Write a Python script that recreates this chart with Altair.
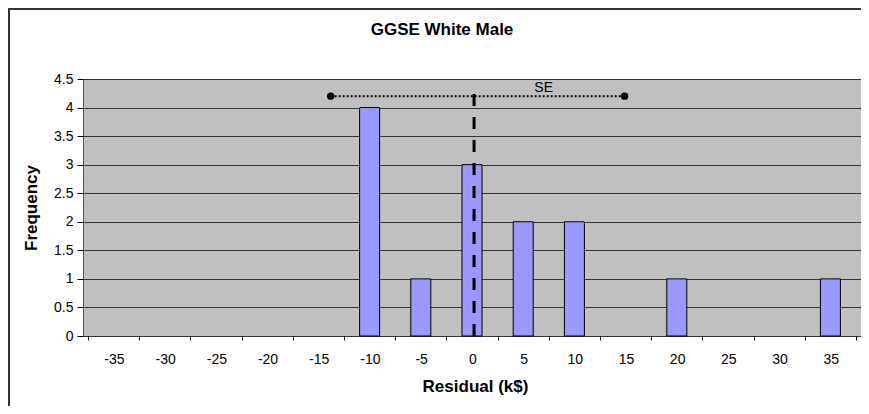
import altair as alt
import pandas as pd

# ---- data ----
categories = [-35, -30, -25, -20, -15, -10, -5, 0, 5, 10, 15, 20, 25, 30, 35]
frequency = [0, 0, 0, 0, 0, 4, 1, 3, 2, 2, 0, 1, 0, 0, 1]
mean_residual = [0.2]
mean_line_top = [4.4]
se_ends = [-13.8, 14.9]
se_level = [4.2]
se_label = ["SE"]
se_label_x = [7.0]
y_ticks = [0, 0.5, 1, 1.5, 2, 2.5, 3, 3.5, 4, 4.5]
bin_edges = [-37.5 + 5 * i for i in range(16)]

W, H = 778, 257
FONT = "Liberation Sans"

bars_df = pd.DataFrame({"residual": categories, "freq": frequency})
mean_df = pd.DataFrame({"x": mean_residual, "y": [0], "y2": mean_line_top})
se_df = pd.DataFrame({"x": [se_ends[0]], "x2": [se_ends[1]], "y": se_level})
se_pts = pd.DataFrame({"x": se_ends, "y": se_level * 2})
se_txt = pd.DataFrame({"x": se_label_x, "y": se_level, "t": se_label})
frame_df = pd.DataFrame({"k": [0]})

xscale = alt.Scale(domain=[bin_edges[0], bin_edges[-1]], nice=False, zero=False)
yscale = alt.Scale(domain=[0, 4.5], nice=False, zero=True)

x_axis = alt.Axis(
    values=bin_edges,
    labelExpr="datum.value > 36 ? '' : toString(datum.value + 2.5)",
    labelOffset=W / 15 / 2,
    labelFlush=False,
    labelOverlap=False,
    tickSize=4,
    tickColor="#000000",
    grid=False,
    domain=False,
    labelPadding=12,
    labelFontSize=14,
    labelColor="#000000",
    title="Residual (k$)",
    titleFontSize=17,
    titleFontWeight="bold",
    titleColor="#000000",
    titleX=392,
    titleY=55,
    titleBaseline="alphabetic",
    titleAlign="center",
)
y_axis = alt.Axis(
    values=y_ticks,
    format=".1~f",
    labelOverlap=False,
    grid=True,
    gridColor="#333333",
    gridWidth=1,
    gridOpacity=1,
    tickSize=6,
    tickColor="#000000",
    domain=False,
    labelPadding=4,
    labelFontSize=14,
    labelColor="#000000",
    title="Frequency",
    titleFontSize=17,
    titleFontWeight="bold",
    titleColor="#000000",
    titleAngle=270,
    titleX=-47,
    titleY=H / 2,
    titleBaseline="alphabetic",
    titleAlign="center",
)


def X(field):
    return alt.X(field, type="quantitative", scale=xscale, axis=x_axis)


def Y(field):
    return alt.Y(field, type="quantitative", scale=yscale, axis=y_axis)


frame = alt.Chart(frame_df).mark_rect(
    fillOpacity=0, stroke="#333333", strokeWidth=2
).encode(
    x=alt.value(-74), x2=alt.value(W + 50),
    y=alt.value(-70), y2=alt.value(H + 150),
)

bars = alt.Chart(bars_df).transform_filter("datum.freq > 0").mark_bar(
    size=20, color="#9999FF", stroke="#000000", strokeWidth=1
).encode(
    x=X("residual"),
    y=Y("freq"),
)

mean_rule = alt.Chart(mean_df).mark_rule(
    color="#000000", strokeWidth=3, strokeDash=[12, 11]
).encode(
    x=X("x"),
    y=Y("y"),
    y2="y2:Q",
)

se_rule = alt.Chart(se_df).mark_rule(
    color="#000000", strokeWidth=2, strokeDash=[2, 2]
).encode(
    x=X("x"),
    x2="x2:Q",
    y=Y("y"),
)

se_points = alt.Chart(se_pts).mark_point(
    filled=True, size=55, color="#000000", opacity=1
).encode(
    x=X("x"),
    y=Y("y"),
)

se_text = alt.Chart(se_txt).mark_text(
    fontSize=14, color="#000000", baseline="alphabetic", dy=-4
).encode(
    x=X("x"),
    y=Y("y"),
    text="t:N",
)

chart = alt.layer(frame, bars, mean_rule, se_rule, se_points, se_text).properties(
    width=W,
    height=H,
    title=alt.TitleParams(
        "GGSE White Male", fontSize=17, fontWeight="bold", anchor="middle",
        frame="group", dx=-30, offset=-31, color="#000000", font=FONT,
    ),
    autosize=alt.AutoSizeParams(type="none"),
    padding={"left": 75, "top": 71, "right": 0, "bottom": 70},
).configure(
    font=FONT, background="#FFFFFF"
).configure_view(
    fill="#C0C0C0", stroke="#555555", strokeWidth=1
)

chart.save("out.html", embed_options={"renderer": "svg", "actions": False})
